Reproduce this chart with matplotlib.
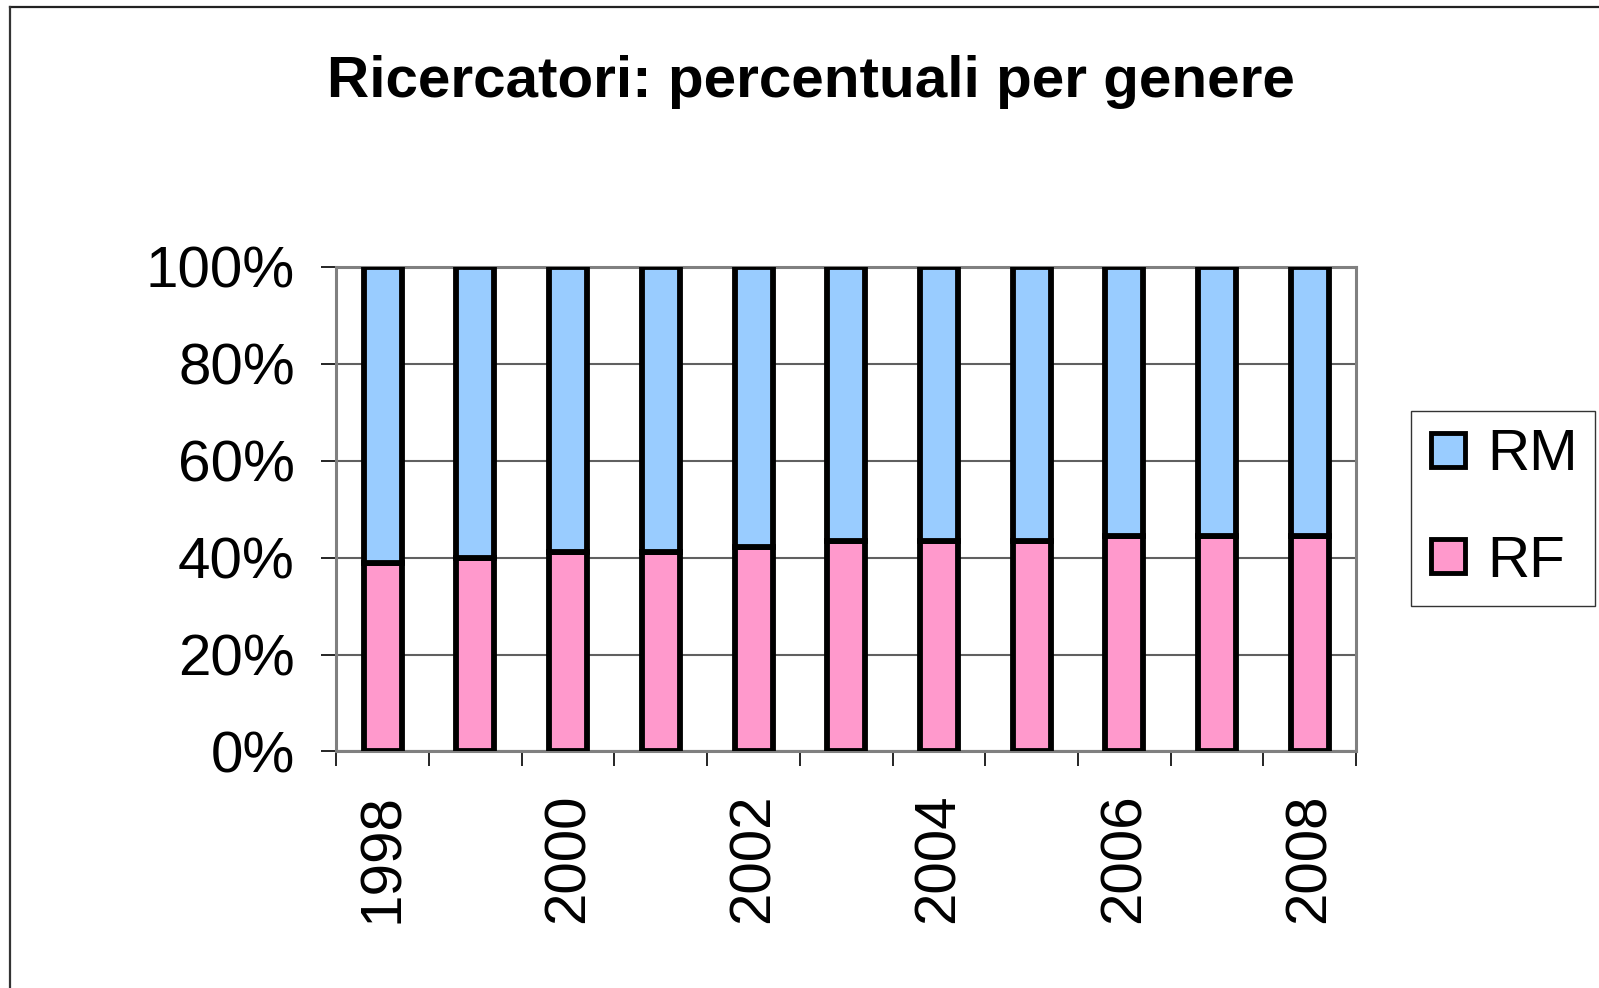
import matplotlib.pyplot as plt
from matplotlib.lines import Line2D
from matplotlib.ticker import FixedLocator, PercentFormatter

plt.rcParams['font.family'] = ['Liberation Sans', 'DejaVu Sans']

# anni e percentuali
anni = [1998, 1999, 2000, 2001, 2002, 2003, 2004, 2005, 2006, 2007, 2008]
rf = [38.8, 40.0, 41.1, 41.1, 42.3, 43.4, 43.4, 43.4, 44.5, 44.5, 44.5]
rm = [100 - v for v in rf]

col_rm = '#99CCFF'
col_rf = '#FF99CC'
grigio = '#808080'

fig = plt.figure(figsize=(15.99, 9.88), dpi=100)
ax = fig.add_axes([0.2104, 0.2394, 0.6376, 0.4904])

x = list(range(len(anni)))
ax.bar(x, rf, width=0.41, color=col_rf, edgecolor='black', linewidth=4.2, zorder=3)
ax.bar(x, rm, width=0.41, bottom=rf, color=col_rm, edgecolor='black', linewidth=4.2, zorder=3)

ax.set_xlim(-0.5, len(anni) - 0.5)
ax.set_ylim(0, 100)
ax.set_yticks([0, 20, 40, 60, 80, 100])
ax.yaxis.set_major_formatter(PercentFormatter(decimals=0))
ax.yaxis.grid(True, color='#606060', linewidth=1.5, zorder=0)

ax.set_xticks(x)
ax.set_xticklabels([str(a) if a % 2 == 0 else '' for a in anni], rotation=90)
ax.xaxis.set_minor_locator(FixedLocator([i - 0.5 for i in range(len(anni) + 1)]))
ax.tick_params(axis='x', which='major', length=0, pad=30, labelsize=42)
ax.tick_params(axis='x', which='minor', length=11, width=1.2, color='black', direction='out')
ax.tick_params(axis='y', length=11, width=1.2, color='black', direction='out', pad=19, labelsize=42)

for s in ax.spines.values():
    s.set_color(grigio)
    s.set_linewidth(2.2)

fig.text(0.507, 0.917, 'Ricercatori: percentuali per genere', ha='center', va='center',
         fontsize=42, fontweight='bold')

handles = [Line2D([], [], marker='s', linestyle='none', markersize=25, markerfacecolor=col_rm,
                  markeredgecolor='black', markeredgewidth=3.5),
           Line2D([], [], marker='s', linestyle='none', markersize=25, markerfacecolor=col_rf,
                  markeredgecolor='black', markeredgewidth=3.5)]
leg = fig.legend(handles, ['RM', 'RF'], loc='center', bbox_to_anchor=(0.94, 0.4853),
                 fontsize=42, frameon=True, fancybox=False, handlelength=0.65,
                 handletextpad=0.35, labelspacing=0.9, borderpad=0.3, borderaxespad=0)
leg.get_frame().set_edgecolor('black')
leg.get_frame().set_linewidth(1.0)

# cornice esterna (solo lati sinistro e superiore visibili)
fig.add_artist(Line2D([10 / 1599, 1.0], [1 - 7.5 / 988, 1 - 7.5 / 988], color='#222222',
                      linewidth=1.6, transform=fig.transFigure))
fig.add_artist(Line2D([10 / 1599, 10 / 1599], [0.0, 1 - 7.5 / 988], color='#333333',
                      linewidth=1.6, transform=fig.transFigure))

fig.savefig('out.png', dpi=100)
